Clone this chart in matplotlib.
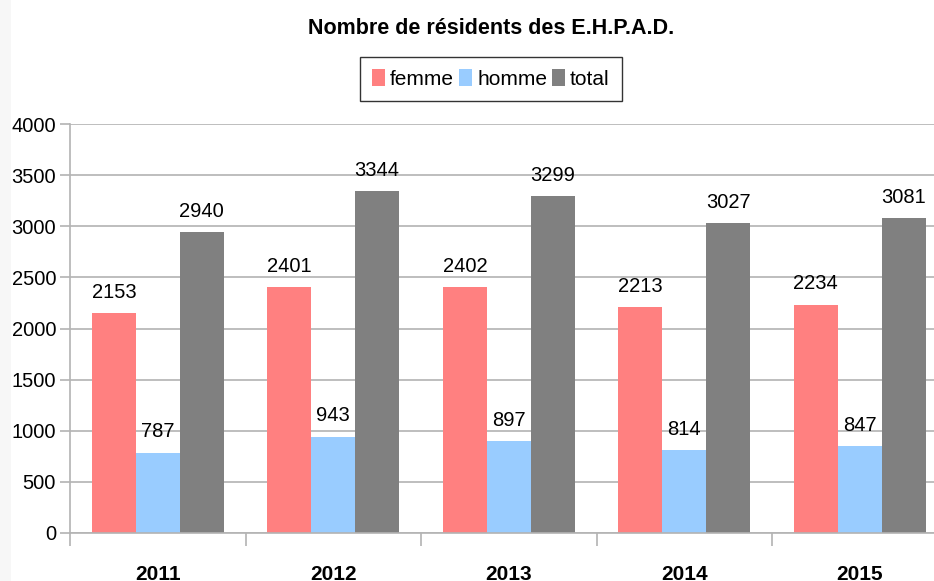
import numpy as np
import matplotlib.pyplot as plt
from matplotlib.patches import Rectangle

plt.rcParams['font.family'] = ['Liberation Sans Narrow', 'Liberation Sans', 'DejaVu Sans']

years = ['2011', '2012', '2013', '2014', '2015']
femme = [2153, 2401, 2402, 2213, 2234]
homme = [787, 943, 897, 814, 847]
total = [2940, 3344, 3299, 3027, 3081]

series = [('femme', femme, '#ff8080'),
          ('homme', homme, '#99ccff'),
          ('total', total, '#808080')]

fig = plt.figure(figsize=(9.34, 5.81), dpi=100)
ax = fig.add_axes([70 / 934, 48 / 581, 877.5 / 934, 409 / 581])

x = np.arange(len(years))
w = 0.25
for i, (name, vals, col) in enumerate(series):
    pos = x + (i - 1) * w
    ax.bar(pos, vals, w, color=col, label=name, zorder=2)
    for px, v in zip(pos, vals):
        ax.annotate(str(v), (px, v), xytext=(0, 8), textcoords='offset points',
                    ha='center', va='bottom', fontsize=14.5)

ax.set_ylim(0, 4000)
ax.set_yticks(range(0, 4001, 500))
ax.set_xlim(-0.5, len(years) - 0.5)
ax.set_xticks(x)
ax.set_xticklabels(years, fontsize=15, fontweight='bold')
ax.set_xticks(np.arange(-0.5, len(years), 1), minor=True)
ax.tick_params(axis='x', which='major', length=0, pad=23)
ax.tick_params(axis='x', which='minor', length=9, color='#b3b3b3', width=1.2)
ax.tick_params(axis='y', length=7, color='#b3b3b3', width=1.2, labelsize=14.5, pad=3)
ax.yaxis.grid(True, color='#b3b3b3', linewidth=1.2, zorder=0)
for s in ['top', 'right']:
    ax.spines[s].set_visible(False)
for s in ['left', 'bottom']:
    ax.spines[s].set_color('#b3b3b3')
    ax.spines[s].set_linewidth(1.2)
ax.set_axisbelow(True)

fig.text(491 / 934, 1 - 28 / 581, 'Nombre de résidents des E.H.P.A.D.', ha='center', va='center',
         fontsize=15.5, fontweight='bold')

leg = fig.legend(loc='center', bbox_to_anchor=(491 / 934, 1 - 79 / 581), ncol=3,
                 fontsize=15, frameon=True, fancybox=False, handlelength=0.6, handleheight=0.85,
                 handletextpad=0.25, columnspacing=0.25, borderpad=0.6)
leg.get_frame().set_edgecolor('black')
leg.get_frame().set_linewidth(1.0)

# thin shaded strip along the left edge
fig.patches.append(Rectangle((0, 0), 11 / 934, 1, transform=fig.transFigure,
                             facecolor='#f7f7f7', edgecolor='none', zorder=-1))

fig.savefig('out.png', dpi=100)
